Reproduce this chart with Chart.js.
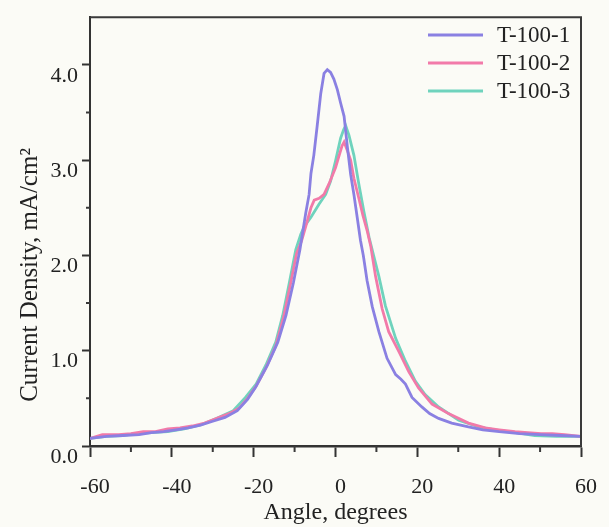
<!DOCTYPE html>
<html><head><meta charset="utf-8">
<script src="https://cdn.jsdelivr.net/npm/chart.js@4.4.0/dist/chart.umd.min.js"></script>
<style>html,body{margin:0;padding:0;background:#fbfbf6;} #wrap{width:609px;height:527px;}</style>
</head><body><div id="wrap"><canvas id="c" width="609" height="527"></canvas></div>
<script>
// ---- data ----
const seriesNames = ['T-100-1', 'T-100-2', 'T-100-3'];
const seriesColors = ['#8a80e2', '#f27aa9', '#6fd3bd'];

const t1Angle = [-60,-56,-52,-48,-45,-42,-39,-36,-33,-30,-27,-24,-21.5,-19.5,-16.6,-14.1,-12.1,-10.3,-8.7,-7.25,-6.45,-6.0,-5.3,-4.5,-3.6,-2.8,-2.0,-1.2,-0.4,0.45,1.25,2.1,2.9,3.7,4.5,5.3,6.1,6.8,7.7,9,10.6,12.6,14.7,16,17.1,18.7,21.1,23,25.2,28.4,32.5,36,40,45,50,55,60];
const t1Density = [0.08,0.10,0.11,0.12,0.14,0.15,0.17,0.19,0.22,0.26,0.30,0.37,0.49,0.62,0.85,1.09,1.37,1.71,2.06,2.45,2.64,2.86,3.05,3.35,3.70,3.91,3.95,3.92,3.85,3.74,3.60,3.46,3.14,2.85,2.64,2.40,2.16,2.00,1.74,1.46,1.20,0.92,0.75,0.70,0.65,0.51,0.41,0.34,0.29,0.24,0.20,0.17,0.15,0.13,0.12,0.11,0.10];

const t2Angle = [-60,-57,-53,-50,-47,-44,-41,-38,-35,-32,-29,-26,-23.5,-21.5,-19.4,-17,-14.6,-12.7,-11.1,-9.5,-8.3,-7.3,-6.0,-5.2,-4.0,-2.8,-1.6,0,0.9,1.6,2.1,2.9,3.7,4.5,5.7,6.7,7.8,8.6,9.8,11.4,13,15.5,17.9,20.3,23.6,27.6,32.5,36.6,40,43.9,47,50.3,53,56,60];
const t2Density = [0.08,0.12,0.12,0.13,0.15,0.15,0.18,0.19,0.21,0.24,0.29,0.34,0.40,0.50,0.63,0.82,1.05,1.35,1.68,2.02,2.15,2.30,2.50,2.58,2.60,2.64,2.75,2.92,3.05,3.15,3.19,3.10,3.00,2.81,2.60,2.42,2.25,2.10,1.78,1.44,1.20,0.99,0.78,0.61,0.44,0.34,0.24,0.19,0.17,0.15,0.14,0.13,0.13,0.12,0.10];

const t3Angle = [-60,-56,-52,-49,-45,-41,-37,-33,-29,-25,-22,-19.4,-17,-14.6,-12.9,-11.3,-9.7,-8.5,-7.7,-6,-4,-2.4,-1.2,0,1.25,2.0,2.5,3.3,4.5,5.7,6.9,8.2,9.2,10.6,12.2,14.7,17.1,19.5,21.9,25.2,30.1,35,39,44,48.7,54,60];
const t3Density = [0.08,0.10,0.11,0.13,0.14,0.15,0.18,0.22,0.29,0.37,0.51,0.65,0.85,1.09,1.37,1.71,2.06,2.22,2.30,2.40,2.54,2.64,2.78,2.99,3.23,3.32,3.36,3.26,3.05,2.75,2.47,2.19,2.02,1.78,1.47,1.13,0.89,0.68,0.54,0.41,0.27,0.20,0.17,0.14,0.11,0.10,0.10];

const xTickValues = [-60,-40,-20,0,20,40,60];
const xMinorTicks = [-50,-30,-10,10,30,50];
const yTickValues = [0,1,2,3,4];
const yMinorTicks = [0.5,1.5,2.5,3.5];
const xTitle = 'Angle, degrees';
const yTitle = 'Current Density, mA/cm\u00B2';

// ---- build ----
const FONT = '"Liberation Serif", "Times New Roman", serif';
const toXY = (xs, ys) => xs.map((v, i) => ({x: v, y: ys[i]}));
const allX = [t1Angle, t2Angle, t3Angle];
const allY = [t1Density, t2Density, t3Density];
const datasets = seriesNames.map((n, i) => ({
  label: n,
  data: toXY(allX[i], allY[i]),
  borderColor: seriesColors[i],
  backgroundColor: seriesColors[i],
  borderWidth: 2.8,
  pointRadius: 0,
  showLine: true,
  tension: 0
}));

const decor = {
  id: 'decor',
  afterDraw(chart) {
    const {ctx, chartArea: a, scales: {x, y}} = chart;
    ctx.save();
    ctx.strokeStyle = '#3a3a3a';
    ctx.lineWidth = 2;
    ctx.beginPath();
    ctx.moveTo(a.left, a.top); ctx.lineTo(a.right, a.top); ctx.lineTo(a.right, a.bottom);
    ctx.stroke();
    ctx.beginPath();
    xMinorTicks.forEach(v => { const px = x.getPixelForValue(v); ctx.moveTo(px, a.bottom); ctx.lineTo(px, a.bottom + 6); });
    yMinorTicks.forEach(v => { const py = y.getPixelForValue(v); ctx.moveTo(a.left, py); ctx.lineTo(a.left - 4, py); });
    ctx.stroke();
    // legend
    ctx.font = '23px ' + FONT;
    ctx.textBaseline = 'middle';
    ctx.textAlign = 'left';
    chart.data.datasets.forEach((d, i) => {
      const ly = 35 + i * 28;
      ctx.strokeStyle = d.borderColor; ctx.lineWidth = 2.8;
      ctx.beginPath(); ctx.moveTo(428, ly); ctx.lineTo(483, ly); ctx.stroke();
      ctx.fillStyle = '#222';
      ctx.fillText(d.label, 497, ly + 1);
    });
    // y title
    ctx.save();
    ctx.translate(37, 275);
    ctx.rotate(-Math.PI / 2);
    ctx.font = '25px ' + FONT;
    ctx.textAlign = 'center';
    ctx.textBaseline = 'alphabetic';
    ctx.fillStyle = '#222';
    ctx.fillText(yTitle, 0, 0);
    ctx.restore();
    ctx.restore();
  }
};

new Chart(document.getElementById('c'), {
  type: 'scatter',
  data: {datasets},
  plugins: [decor],
  options: {
    responsive: false,
    devicePixelRatio: 1,
    animation: false,
    layout: {padding: {top: 10, right: 26, left: 0, bottom: 0}},
    plugins: {legend: {display: false}, tooltip: {enabled: false}},
    scales: {
      x: {
        type: 'linear', min: -60, max: 60,
        afterFit: s => { s.height = 81; },
        afterBuildTicks: s => { s.ticks = xTickValues.map(v => ({value: v})); },
        ticks: {font: {family: FONT, size: 22}, color: '#222', padding: 17, labelOffset: 5, maxRotation: 0},
        grid: {display: true, drawOnChartArea: false, drawTicks: true, tickLength: 11, tickWidth: 2, tickColor: '#333'},
        border: {display: true, width: 2.5, color: '#333'},
        title: {display: true, text: xTitle, font: {family: FONT, size: 24, lineHeight: 1}, color: '#222', padding: {top: 0, bottom: 2}}
      },
      y: {
        type: 'linear', min: 0, max: 4.5,
        afterFit: s => { s.width = 90; },
        afterBuildTicks: s => { s.ticks = yTickValues.map(v => ({value: v})); },
        ticks: {font: {family: FONT, size: 22}, color: '#222', padding: 4, labelOffset: 11, callback: v => Number(v).toFixed(1)},
        grid: {display: true, drawOnChartArea: false, drawTicks: true, tickLength: 8, tickWidth: 2, tickColor: '#333'},
        border: {display: true, width: 2, color: '#333'}
      }
    }
  }
});
</script></body></html>
